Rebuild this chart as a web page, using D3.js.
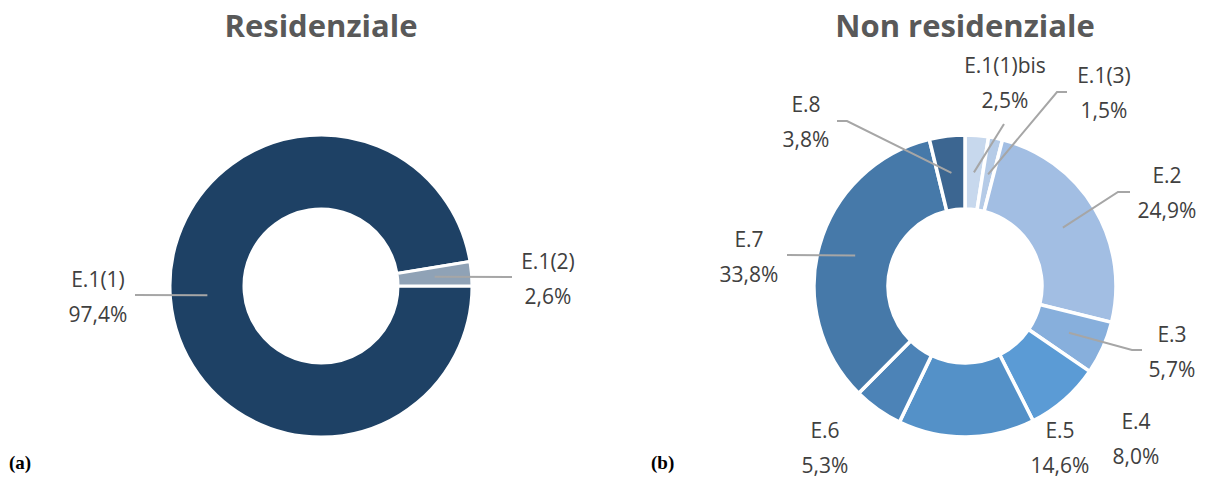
<!DOCTYPE html>
<html>
<head>
<meta charset="utf-8">
<script src="https://cdn.jsdelivr.net/npm/d3@7"></script>
<style>
  html, body { margin: 0; padding: 0; background: #ffffff; }
  svg { display: block; }
</style>
</head>
<body>
<svg id="chart" width="1205" height="479"></svg>
<script>
// Residential building categories and shares (%)
const resCategories = ["E.1(1)", "E.1(2)"];
const resValues = [97.4, 2.6];
const resColors = ["#1e4165", "#8fa2b6"];

// Non-residential building categories and shares (%)
const nonResCategories = ["E.1(1)bis", "E.1(3)", "E.2", "E.3", "E.4", "E.5", "E.6", "E.7", "E.8"];
const nonResValues = [2.5, 1.5, 24.9, 5.7, 8.0, 14.6, 5.3, 33.8, 3.8];
const nonResColors = ["#c7d8ed", "#b5cbe7", "#a2bee3", "#87afdc", "#5b9bd5", "#5491c8", "#4c83b7", "#4679a9", "#3c6691"];

// Label placement (offsets from each donut centre): text anchor and leader-line path
const resLabelLayout = [
  { tx: -223, ty: 1,   leader: [[-186, 9]] },
  { tx: 227,  ty: -17, leader: [[191, -9]] }
];
const nonResLabelLayout = [
  { tx: 40,   ty: -213, leader: [[39, -162]] },
  { tx: 139,  ty: -203, leader: [[92, -194], [102, -194]] },
  { tx: 202,  ty: -103, leader: [[153, -94], [165, -94]] },
  { tx: 207,  ty: 56,   leader: [[167, 64], [177, 64]] },
  { tx: 171,  ty: 143,  leader: null },
  { tx: 95,   ty: 152,  leader: null },
  { tx: -140, ty: 152,  leader: null },
  { tx: -216, ty: -39,  leader: [[-178, -31]] },
  { tx: -159, ty: -174, leader: [[-118, -165], [-128, -165]] }
];

const svg = d3.select("#chart");
const outerR = 151, innerR = 77;
const labelFont = "'Open Sans', 'Noto Sans', sans-serif";

const pct = d3.formatLocale({ decimal: ",", thousands: ".", grouping: [3], currency: ["", "€"] }).format(".1f");

const arc = d3.arc().innerRadius(innerR).outerRadius(outerR);

function drawDonut(cx, cy, title, categories, values, colors, layout, startAngle, strokeW) {
  const g = svg.append("g").attr("transform", `translate(${cx},${cy})`);
  const pie = d3.pie().sort(null).value(d => d.value)
    .startAngle(startAngle).endAngle(startAngle + 2 * Math.PI);
  const data = categories.map((c, i) => ({ name: c, value: values[i], color: colors[i], lay: layout[i] }));
  const arcs = pie(data);

  g.selectAll("path.slice").data(arcs).join("path")
    .attr("class", "slice")
    .attr("d", arc)
    .attr("fill", d => d.data.color)
    .attr("stroke", "#ffffff")
    .attr("stroke-width", strokeW)
    .attr("stroke-linejoin", "miter");

  // leader lines from slice centroid to label
  arcs.filter(d => d.data.lay.leader).forEach(d => {
    const pts = [arc.centroid(d)].concat(d.data.lay.leader);
    g.append("path")
      .attr("d", d3.line()(pts))
      .attr("fill", "none")
      .attr("stroke", "#a6a6a6")
      .attr("stroke-width", 2);
  });

  const labels = g.selectAll("g.lbl").data(arcs).join("g")
    .attr("class", "lbl")
    .attr("transform", d => `translate(${d.data.lay.tx},${d.data.lay.ty})`);
  labels.append("text")
    .attr("text-anchor", "middle")
    .attr("font-family", labelFont)
    .attr("font-size", 21)
    .attr("fill", "#404040")
    .text(d => d.data.name);
  labels.append("text")
    .attr("text-anchor", "middle")
    .attr("y", 35)
    .attr("font-family", labelFont)
    .attr("font-size", 21)
    .attr("fill", "#404040")
    .text(d => pct(d.data.value) + "%");

  svg.append("text")
    .attr("x", cx)
    .attr("y", 37)
    .attr("text-anchor", "middle")
    .attr("font-family", labelFont)
    .attr("font-weight", 700)
    .attr("font-size", 31)
    .attr("fill", "#595959")
    .text(title);
}

drawDonut(321, 286, "Residenziale", resCategories, resValues, resColors, resLabelLayout, Math.PI / 2, 3);
drawDonut(965, 286, "Non residenziale", nonResCategories, nonResValues, nonResColors, nonResLabelLayout, 0, 3.5);

// panel letters
svg.append("text").attr("x", 9).attr("y", 469)
  .attr("font-family", "'Liberation Serif', 'DejaVu Serif', serif")
  .attr("font-weight", 700).attr("font-size", 19).attr("fill", "#000")
  .text("(a)");
svg.append("text").attr("x", 651).attr("y", 469)
  .attr("font-family", "'Liberation Serif', 'DejaVu Serif', serif")
  .attr("font-weight", 700).attr("font-size", 19).attr("fill", "#000")
  .text("(b)");
</script>
</body>
</html>
